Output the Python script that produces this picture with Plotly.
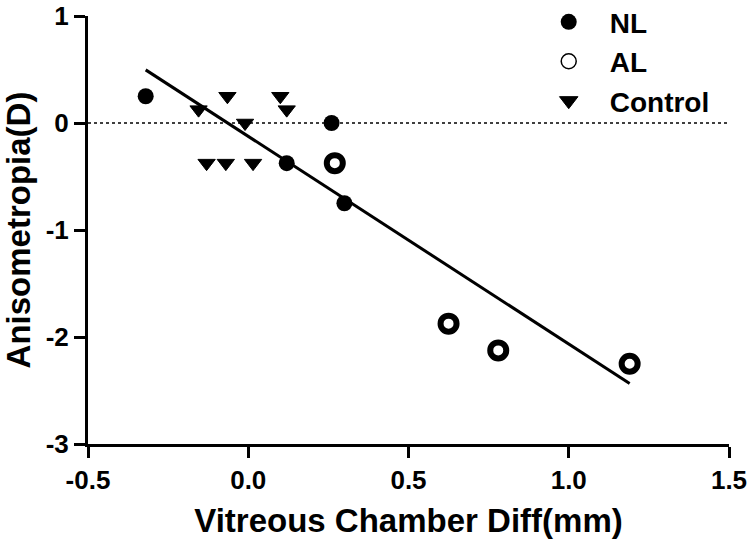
import numpy as np
import plotly.graph_objects as go

# ---- data ----
nl_x = [-0.32, 0.26, 0.12, 0.30]
nl_y = [0.25, 0.0, -0.375, -0.75]

al_x = [0.27, 0.625, 0.78, 1.19]
al_y = [-0.375, -1.875, -2.125, -2.25]

ctrl_x = [-0.155, -0.065, -0.01, 0.10, 0.12, -0.13, -0.07, 0.015]
ctrl_y = [0.125, 0.25, 0.0, 0.25, 0.125, -0.375, -0.375, -0.375]

x_tick_vals = [-0.5, 0.0, 0.5, 1.0, 1.5]
x_tick_text = ["-0.5", "0.0", "0.5", "1.0", "1.5"]
y_tick_vals = [-3, -2, -1, 0, 1]
y_tick_text = ["-3", "-2", "-1", "0", "1"]

series_names = ["NL", "AL", "Control"]
x_title = "Vitreous Chamber Diff(mm)"
y_title = "Anisometropia(D)"

# ---- linear regression over all points ----
all_x = np.array(nl_x + al_x + ctrl_x)
all_y = np.array(nl_y + al_y + ctrl_y)
slope, intercept = np.polyfit(all_x, all_y, 1)
fit_x = np.array([all_x.min(), all_x.max()])
fit_y = slope * fit_x + intercept

FONT = "Liberation Sans, Arial, sans-serif"

fig = go.Figure()

# reference line at y = 0
fig.add_hline(y=0, line=dict(color="black", width=1.5, dash="dot"), layer="below")

# regression line
fig.add_trace(go.Scatter(x=fit_x, y=fit_y, mode="lines",
                         line=dict(color="black", width=3), showlegend=False,
                         hoverinfo="skip"))

# data markers
fig.add_trace(go.Scatter(x=nl_x, y=nl_y, mode="markers", showlegend=False,
                         marker=dict(symbol="circle", size=16, color="black")))
fig.add_trace(go.Scatter(x=al_x, y=al_y, mode="markers", showlegend=False,
                         marker=dict(symbol="circle-open", size=16, color="black",
                                     line=dict(width=6, color="black"))))
fig.add_trace(go.Scatter(x=ctrl_x, y=ctrl_y, mode="markers", showlegend=False,
                         marker=dict(symbol="triangle-down", size=15, color="black",
                                     line=dict(width=1, color="black"))))

# legend entries
fig.add_trace(go.Scatter(x=[None], y=[None], mode="markers", name=series_names[0],
                         marker=dict(symbol="circle", size=16, color="black")))
fig.add_trace(go.Scatter(x=[None], y=[None], mode="markers", name=series_names[1],
                         marker=dict(symbol="circle-open", size=15, color="black",
                                     line=dict(width=1.5, color="black"))))
fig.add_trace(go.Scatter(x=[None], y=[None], mode="markers", name=series_names[2],
                         marker=dict(symbol="triangle-down", size=16, color="black",
                                     line=dict(width=1, color="black"))))

axis_common = dict(
    showline=True, linecolor="black", linewidth=3,
    ticks="outside", ticklen=11, tickwidth=2.5, tickcolor="black",
    showgrid=False, zeroline=False, automargin=False,
    ticklabeloverflow="allow",
    tickfont=dict(family=FONT, size=26, color="black", weight="bold"),
)

fig.update_xaxes(range=[-0.5, 1.5], tickvals=x_tick_vals, ticktext=x_tick_text,
                 title=dict(text=x_title,
                            font=dict(family=FONT, size=33, color="black", weight="bold")),
                 **axis_common)
fig.update_yaxes(range=[-3, 1], tickvals=y_tick_vals, ticktext=y_tick_text,
                 title=dict(text=y_title,
                            font=dict(family=FONT, size=33, color="black", weight="bold")),
                 **axis_common)

fig.update_layout(
    width=751, height=549,
    margin=dict(l=88, r=22, t=16, b=105, autoexpand=False),
    paper_bgcolor="white", plot_bgcolor="white",
    legend=dict(x=0.686, y=1.044,
                xanchor="left", yanchor="top", itemwidth=72,
                bgcolor="rgba(0,0,0,0)",
                font=dict(family=FONT, size=28, color="black", weight="bold")),
    showlegend=True,
)

fig.write_html("out.html", config={"displayModeBar": False},
               post_script="document.body.style.margin='0';")
